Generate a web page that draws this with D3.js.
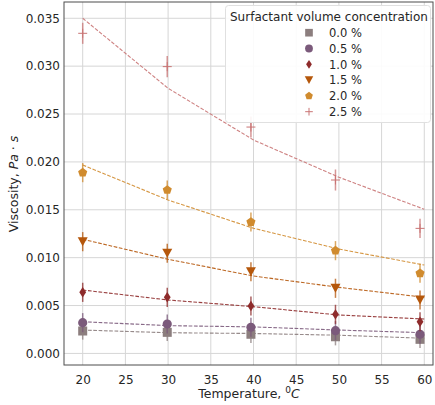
<!DOCTYPE html>
<html><head><meta charset="utf-8">
<script src="https://cdn.jsdelivr.net/npm/d3@7"></script>
<style>body{margin:0;background:#fff}svg{display:block;font-family:"DejaVu Sans",sans-serif}</style>
</head><body><svg id="c" width="435" height="405"></svg>
<script>
const series = ["0.0 %","0.5 %","1.0 %","1.5 %","2.0 %","2.5 %"];
const colors = ["#8c7e7e","#7b5a7b","#8e2b2b","#b5570b","#d08b2e","#c97474"];
const shapes = ["square","circle","diamond","triangle","pentagon","plus"];
const tempMeasured = [20.0, 29.9, 39.7, 49.6, 59.5];
const tempFit = [20, 30, 40, 50, 60];
const measured = [
  [0.00234,0.00220,0.00200,0.00174,0.00147],
  [0.00321,0.00307,0.00273,0.00237,0.00200],
  [0.00638,0.00586,0.00495,0.00408,0.00331],
  [0.01167,0.01046,0.00853,0.00680,0.00558],
  [0.01888,0.01707,0.01372,0.01073,0.00837],
  [0.03343,0.02995,0.02364,0.01811,0.01306]
];
const errors = [
  [0.0009,0.0009,0.0009,0.0009,0.0009],
  [0.0010,0.0010,0.0010,0.0010,0.0010],
  [0.0010,0.0010,0.0010,0.0010,0.0010],
  [0.0010,0.0010,0.0010,0.0010,0.0010],
  [0.0010,0.0010,0.0010,0.0010,0.0010],
  [0.0011,0.0011,0.0011,0.0011,0.0010]
];
const fitted = [
  [0.00244,0.00216,0.00208,0.00190,0.00158],
  [0.00331,0.00290,0.00277,0.00244,0.00216],
  [0.00662,0.00558,0.00488,0.00401,0.00359],
  [0.01192,0.00983,0.00808,0.00690,0.00586],
  [0.01968,0.01602,0.01307,0.01090,0.00923],
  [0.03500,0.02769,0.02229,0.01840,0.01505]
];
const xTicks = [20,25,30,35,40,45,50,55,60];
const yTicks = [0,0.005,0.010,0.015,0.020,0.025,0.030,0.035];

const svg = d3.select("#c");
const L=64,R=433,T=2,B=365;
const x = d3.scaleLinear().domain([17.81,61.02]).range([L,R]);
const y = d3.scaleLinear().domain([-0.00121,0.0367]).range([B,T]);

// grid
const g = svg.append("g");
g.selectAll("line.vx").data(xTicks).join("line")
  .attr("x1",d=>x(d)).attr("x2",d=>x(d)).attr("y1",T).attr("y2",B)
  .attr("stroke","#d6d6d6").attr("stroke-width",1);
g.selectAll("line.hy").data(yTicks).join("line")
  .attr("y1",d=>y(d)).attr("y2",d=>y(d)).attr("x1",L).attr("x2",R)
  .attr("stroke","#d6d6d6").attr("stroke-width",1);

// axes
const xa = svg.append("g").attr("transform",`translate(0,${B})`)
  .call(d3.axisBottom(x).tickValues(xTicks).tickSize(0).tickPadding(10).tickFormat(d3.format("d")));
const ya = svg.append("g").attr("transform",`translate(${L},0)`)
  .call(d3.axisLeft(y).tickValues(yTicks).tickSize(0).tickPadding(4).tickFormat(d3.format(".3f")));
[xa,ya].forEach(a=>{a.select(".domain").remove();
  a.selectAll("text").attr("font-size","12px").attr("fill","#262626").attr("font-family","DejaVu Sans");});

function drawMarker(sel, shape, color, cx, cy, scale=1){
  if(shape==="square"){
    const s=9*scale; sel.append("rect").attr("x",cx-s/2).attr("y",cy-s/2).attr("width",s).attr("height",s).attr("fill",color);
  } else if(shape==="circle"){
    sel.append("circle").attr("cx",cx).attr("cy",cy).attr("r",4.6*scale).attr("fill",color);
  } else if(shape==="diamond"){
    const w=3.4*scale,h=5.2*scale;
    sel.append("path").attr("d",`M${cx},${cy-h}L${cx+w},${cy}L${cx},${cy+h}L${cx-w},${cy}Z`).attr("fill",color);
  } else if(shape==="triangle"){
    const w=5*scale,h=4.5*scale;
    sel.append("path").attr("d",`M${cx-w},${cy-h}L${cx+w},${cy-h}L${cx},${cy+h}Z`).attr("fill",color);
  } else if(shape==="pentagon"){
    const r=4.8*scale; const pts=d3.range(5).map(i=>{const a=-Math.PI/2+i*2*Math.PI/5;return [cx+r*Math.cos(a),cy+r*Math.sin(a)];});
    sel.append("path").attr("d","M"+pts.map(p=>p.join(",")).join("L")+"Z").attr("fill",color);
  } else if(shape==="plus"){
    const s=4.5*scale;
    sel.append("path").attr("d",`M${cx-s},${cy}H${cx+s}M${cx},${cy-s}V${cy+s}`).attr("stroke",color).attr("stroke-width",1);
  }
}

const line = d3.line().x(d=>x(d[0])).y(d=>y(d[1]));
series.forEach((s,i)=>{
  const sg = svg.append("g");
  sg.append("path").datum(tempFit.map((t,j)=>[t,fitted[i][j]])).attr("d",line)
    .attr("fill","none").attr("stroke",colors[i]).attr("stroke-width",1.1)
    .attr("stroke-dasharray","3.7,1.6").attr("opacity",0.9);
  measured[i].forEach((v,j)=>{
    sg.append("line").attr("x1",x(tempMeasured[j])).attr("x2",x(tempMeasured[j]))
      .attr("y1",y(v-errors[i][j])).attr("y2",y(v+errors[i][j]))
      .attr("stroke",colors[i]).attr("stroke-width",1.5).attr("opacity",0.75);
    drawMarker(sg, shapes[i], colors[i], x(tempMeasured[j]), y(v));
  });
});

// frame
svg.append("rect").attr("x",L).attr("y",T).attr("width",R-L).attr("height",B-T)
  .attr("fill","none").attr("stroke","#4d4d4d").attr("stroke-width",1);

// legend
const lg = svg.append("g");
lg.append("rect").attr("x",225.5).attr("y",5.5).attr("width",205).attr("height",117).attr("rx",3)
  .attr("fill","#fff").attr("fill-opacity",0.9).attr("stroke","#e0e0e0");
lg.append("text").attr("x",230).attr("y",21).attr("font-size","12px").attr("fill","#262626")
  .text("Surfactant volume concentration");
series.forEach((s,i)=>{
  const cy = 32.7 + i*15.8;
  drawMarker(lg, shapes[i], colors[i], 309, cy, 0.85);
  lg.append("text").attr("x",329).attr("y",cy+4.3).attr("font-size","11.5px").attr("fill","#262626").text(s);
});

// axis labels
const xl = svg.append("text").attr("x",249).attr("y",398).attr("text-anchor","middle")
  .attr("font-size","12.5px").attr("fill","#262626");
xl.append("tspan").text("Temperature, ");
xl.append("tspan").attr("font-size","9px").attr("dy","-5").text("0");
xl.append("tspan").attr("dy","5").attr("font-style","italic").text("C");

const yl = svg.append("text").attr("transform","translate(18,184) rotate(-90)").attr("text-anchor","middle")
  .attr("font-size","12.5px").attr("fill","#262626");
yl.append("tspan").text("Viscosity, ");
yl.append("tspan").attr("font-style","italic").text("Pa");
yl.append("tspan").text(" · ");
yl.append("tspan").attr("font-style","italic").text("s");
</script></body></html>
